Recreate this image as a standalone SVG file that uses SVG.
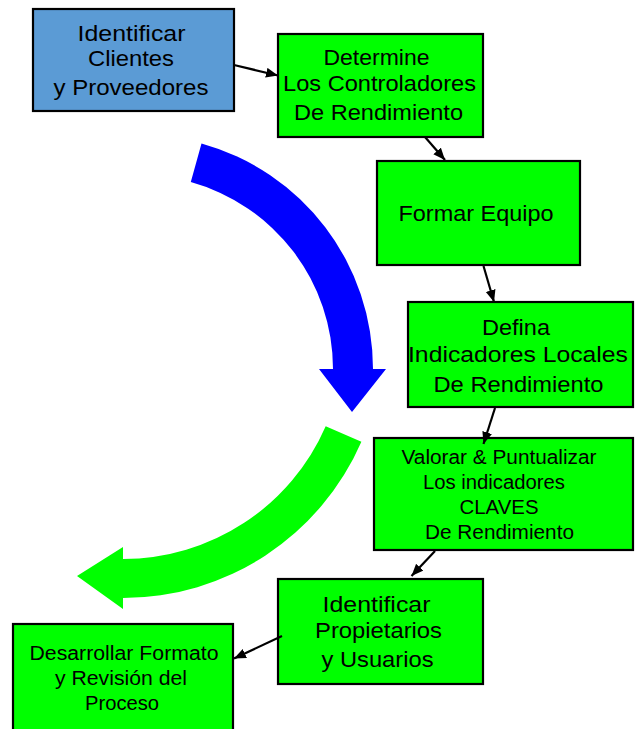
<svg xmlns="http://www.w3.org/2000/svg" width="635" height="729" viewBox="0 0 635 729">
<style>
.box{stroke:#000;stroke-width:2.2;}
.g{fill:#00ff00;}
.b{fill:#5b9bd5;}
text{font-family:"Liberation Sans",Arial,sans-serif;fill:#000;text-anchor:middle;}
.t22{font-size:22px;}
.t20{font-size:20px;}
.conn line{stroke:#000;stroke-width:2.2;fill:none;}
</style>
<defs>
<marker id="ah" markerUnits="userSpaceOnUse" markerWidth="13" markerHeight="11" refX="12" refY="5" orient="auto" viewBox="0 0 13 11">
<path d="M0,0 L12,5 L0,10 Z" fill="#000"/>
</marker>
</defs>
<g id="bigArrows">
<path id="blueArrow" d="M201.5,143.5 A234,234 0 0 1 373,369 L386,369 L352,412 L319,369 L333,369 A194,194 0 0 0 190.8,182.1 Z" fill="#0000ff"/>
<path id="greenArrow" d="M361.4,441.7 A260,260 0 0 1 123,598 L123,609 L77,576 L123,547 L123,559 A221,221 0 0 0 325.7,426.2 Z" fill="#00ff00"/>
</g>
<g id="n1">
<rect class="box b" x="33" y="9" width="201" height="102"/>
<text class="t22" x="131.5" y="41" textLength="108" lengthAdjust="spacingAndGlyphs">Identificar</text>
<text class="t22" x="131" y="66" textLength="86" lengthAdjust="spacingAndGlyphs">Clientes</text>
<text class="t22" x="131" y="95" textLength="155" lengthAdjust="spacingAndGlyphs">y Proveedores</text>
</g>
<g id="n2">
<rect class="box g" x="278" y="34" width="205" height="103"/>
<text class="t22" x="376.5" y="64.5" textLength="106" lengthAdjust="spacingAndGlyphs">Determine</text>
<text class="t22" x="379.5" y="91" textLength="193" lengthAdjust="spacingAndGlyphs">Los Controladores</text>
<text class="t22" x="378.5" y="120" textLength="169" lengthAdjust="spacingAndGlyphs">De Rendimiento</text>
</g>
<g id="n3">
<rect class="box g" x="377" y="161" width="203" height="104"/>
<text class="t22" x="476" y="221" textLength="155" lengthAdjust="spacingAndGlyphs">Formar Equipo</text>
</g>
<g id="n4">
<rect class="box g" x="408" y="302" width="225" height="105"/>
<text class="t22" x="516" y="334.5" textLength="68" lengthAdjust="spacingAndGlyphs">Defina</text>
<text class="t22" x="518" y="362" textLength="220" lengthAdjust="spacingAndGlyphs">Indicadores  Locales</text>
<text class="t22" x="518.5" y="392" textLength="170" lengthAdjust="spacingAndGlyphs">De Rendimiento</text>
</g>
<g id="n5">
<rect class="box g" x="374" y="438" width="259" height="112"/>
<text class="t20" x="499" y="463.5" textLength="195" lengthAdjust="spacingAndGlyphs">Valorar &amp; Puntualizar</text>
<text class="t20" x="494" y="488.5" textLength="142" lengthAdjust="spacingAndGlyphs">Los indicadores</text>
<text class="t20" x="499" y="513.5" textLength="79" lengthAdjust="spacingAndGlyphs">CLAVES</text>
<text class="t20" x="499.5" y="539" textLength="149" lengthAdjust="spacingAndGlyphs">De Rendimiento</text>
</g>
<g id="n6">
<rect class="box g" x="278" y="579" width="205" height="105"/>
<text class="t22" x="376.5" y="612" textLength="108" lengthAdjust="spacingAndGlyphs">Identificar</text>
<text class="t22" x="378.5" y="637.5" textLength="127" lengthAdjust="spacingAndGlyphs">Propietarios</text>
<text class="t22" x="377.5" y="666.5" textLength="112" lengthAdjust="spacingAndGlyphs">y Usuarios</text>
</g>
<g id="n7">
<rect class="box g" x="13" y="624" width="220" height="112"/>
<text class="t20" x="124" y="660" textLength="189" lengthAdjust="spacingAndGlyphs">Desarrollar Formato</text>
<text class="t20" x="121" y="685" textLength="132" lengthAdjust="spacingAndGlyphs">y Revisión del</text>
<text class="t20" x="122" y="710" textLength="74" lengthAdjust="spacingAndGlyphs">Proceso</text>
</g>
<g id="connectors" class="conn">
<line x1="234" y1="65" x2="278" y2="75.5" marker-end="url(#ah)"/>
<line x1="425" y1="137" x2="445" y2="160" marker-end="url(#ah)"/>
<line x1="483.5" y1="266" x2="494" y2="302" marker-end="url(#ah)"/>
<line x1="495" y1="408" x2="483.5" y2="444" marker-end="url(#ah)"/>
<line x1="435" y1="551" x2="411.5" y2="576" marker-end="url(#ah)"/>
<line x1="282" y1="636" x2="234" y2="658.5" marker-end="url(#ah)"/>
</g>
</svg>
